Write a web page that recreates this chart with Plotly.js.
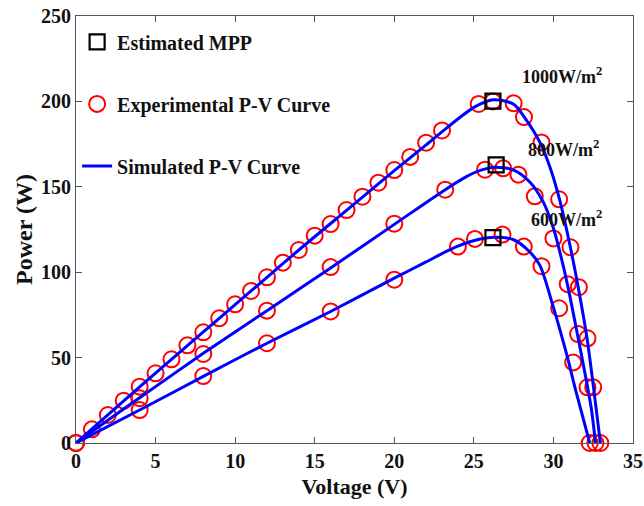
<!DOCTYPE html>
<html>
<head>
<meta charset="utf-8">
<script src="https://cdn.plot.ly/plotly-3.0.1.min.js"></script>
<style>html,body{margin:0;padding:0;background:#fff;}#chart{width:644px;height:506px;}</style>
</head>
<body>
<div id="chart"></div>
<script>
// Experimental points (Voltage V, Power W)
const exp1000V = [0, 1, 2, 3, 4, 5, 6, 7, 8, 9, 10, 11, 12, 13, 14, 15, 16, 17, 18, 19, 20, 21, 22, 23, 25.3, 26.2, 27.5, 28.15, 29.25, 30.36, 31.07, 31.6, 32.14, 32.5, 32.95];
const exp1000P = [0, 8, 16.4, 24.8, 33, 40.8, 49, 57.2, 64.8, 73, 81.2, 89, 97, 105.6, 113, 121.4, 128.2, 136.4, 144.2, 152.4, 159.8, 167.5, 175.8, 183, 198.5, 200, 198.9, 190.8, 176, 142.7, 114.6, 91.2, 61.3, 32.6, 0];
const exp800V = [0, 4, 8, 12, 16, 20, 23.2, 25.7, 26.84, 27.8, 28.83, 30, 30.9, 31.55, 32.14, 32.64];
const exp800P = [0, 26.2, 52.1, 77.5, 103, 128.4, 148.3, 160, 160.8, 157.1, 144.4, 119.8, 93, 63.8, 32.6, 0];
const exp600V = [0, 4, 8, 12, 16, 20, 24, 25.07, 26.8, 28.14, 29.25, 30.36, 31.24, 32.28];
const exp600P = [0, 19.3, 39.2, 58.4, 77, 95.6, 115, 119.5, 122, 115, 103.5, 78.9, 47.2, 0];

// Simulated P-V curves
const sim1000V = [0, 2, 4, 6, 8, 10, 12, 14, 16, 18, 20, 22, 23.3, 25, 26.2, 27.5, 28.3, 29.15, 29.8, 30.4, 31.1, 31.6, 32.1, 32.5, 32.95];
const sim1000P = [0, 16.4, 32.8, 49, 65, 81, 97, 113, 128.5, 144, 159.5, 174.5, 184.5, 196.5, 201, 198.3, 189, 176, 161, 142, 113, 89, 62, 34, 0];
const sim800V = [0, 2, 4, 8, 12, 16, 20, 23.2, 24.5, 25.4, 26.3, 27.5, 28.5, 29.35, 30, 30.4, 30.9, 31.5, 32.1, 32.4, 32.64];
const sim800P = [0, 13.3, 26.5, 52.5, 77.5, 102.5, 128, 148.3, 155.8, 159.6, 161.5, 159.8, 153, 141.3, 125.7, 112, 92, 64, 35, 19, 0];
const sim600V = [0, 4, 8, 12, 16, 20, 22, 23.3, 24, 25.4, 26.3, 27.5, 28.5, 29.15, 29.98, 30.8, 31.45, 32.28];
const sim600P = [0, 19.3, 39, 58.4, 77, 96.5, 106, 112.3, 115.3, 119.4, 120.4, 119, 112, 104, 80, 53, 29, 0];

// Estimated MPP
const mppV = [26.2, 26.4, 26.2];
const mppP = [200.2, 162.8, 120.2];

// Labels
const irrLabels = ['1000W/m<sup>2</sup>', '800W/m<sup>2</sup>', '600W/m<sup>2</sup>'];
const irrLabelV = [27.9, 28.3, 28.45];
const irrLabelP = [215, 172.5, 131.5];
const xTicks = [0, 5, 10, 15, 20, 25, 30, 35];
const yTicks = [0, 50, 100, 150, 200, 250];

const FONT = 'Liberation Serif, Times New Roman, serif';
const red = '#ff0000', blue = '#0000ff';

const traces = [];
traces.push({
  x: exp1000V.concat(exp800V, exp600V),
  y: exp1000P.concat(exp800P, exp600P),
  type: 'scatter', mode: 'markers', name: 'Experimental P-V Curve',
  marker: {symbol: 'circle-open', size: 16, color: red, line: {color: red, width: 2}},
  legendgroup: 'b', legendrank: 2, cliponaxis: false
});
[[sim1000V, sim1000P], [sim800V, sim800P], [sim600V, sim600P]].forEach((s, i) => {
  traces.push({
    x: s[0], y: s[1], type: 'scatter', mode: 'lines', name: 'Simulated P-V Curve',
    line: {color: blue, width: 3, shape: 'spline', smoothing: 0.8},
    legendgroup: 'c', legendrank: 3, showlegend: i === 0
  });
});
traces.push({
  x: mppV, y: mppP, type: 'scatter', mode: 'markers', name: 'Estimated MPP',
  marker: {symbol: 'square-open', size: 15, color: '#000', line: {color: '#000', width: 2.2}},
  legendgroup: 'a', legendrank: 1
});

const axisCommon = {
  showline: true, linecolor: '#555', linewidth: 1, mirror: 'ticks',
  ticks: 'inside', ticklen: 6, tickcolor: '#555', tickwidth: 1,
  showgrid: false, zeroline: false,
  tickfont: {family: FONT, size: 20, color: '#111', weight: 'bold'}
};

const layout = {
  width: 644, height: 506,
  margin: {l: 76, r: 11, t: 16, b: 63},
  paper_bgcolor: '#fff', plot_bgcolor: '#fff',
  font: {family: FONT, color: '#111', weight: 'bold'},
  xaxis: Object.assign({}, axisCommon, {
    range: [0, 35], tickvals: xTicks, ticktext: xTicks.map(String),
    title: {text: 'Voltage (V)', font: {family: FONT, size: 22, color: '#111', weight: 'bold'}, standoff: 7}
  }),
  yaxis: Object.assign({}, axisCommon, {
    range: [0, 250], tickvals: yTicks, ticktext: yTicks.map(String),
    title: {text: 'Power (W)', font: {family: FONT, size: 24, color: '#111', weight: 'bold'}, standoff: 1}
  }),
  showlegend: true,
  legend: {
    x: 0.002, xanchor: 'left', y: 0.985, yanchor: 'top',
    bgcolor: 'rgba(0,0,0,0)', borderwidth: 0,
    traceorder: 'grouped', tracegroupgap: 33,
    font: {family: FONT, size: 20, color: '#111', weight: 'bold'}
  },
  annotations: irrLabels.map((t, i) => ({
    text: t, x: irrLabelV[i], y: irrLabelP[i], xref: 'x', yref: 'y',
    xanchor: 'left', yanchor: 'middle', showarrow: false,
    font: {family: FONT, size: 18, color: '#111', weight: 'bold'}
  }))
};

Plotly.newPlot('chart', traces, layout, {displayModeBar: false, staticPlot: true});
</script>
</body>
</html>
